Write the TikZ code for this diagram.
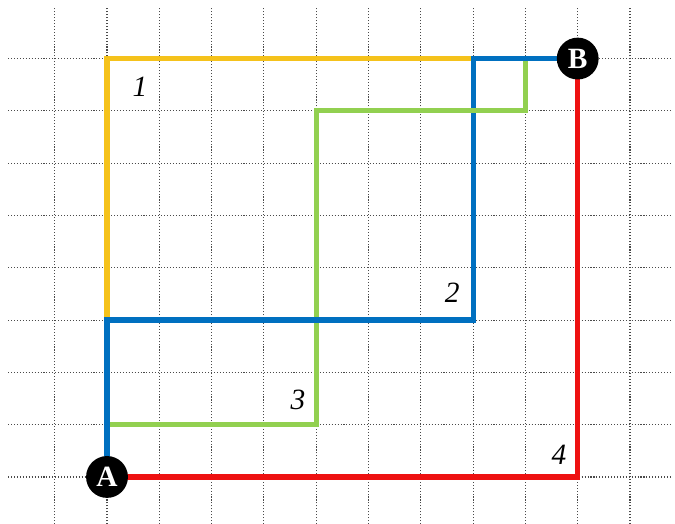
\documentclass[tikz,border=0pt]{standalone}
\usepackage{fontspec}
\setmainfont{Liberation Serif}
\usepackage{tikz}
\usetikzlibrary{positioning}
\definecolor{gold}{HTML}{F5C21B}
\definecolor{ocean}{HTML}{0070C0}
\definecolor{leaf}{HTML}{92D050}
\definecolor{crimson}{HTML}{EE1111}
\definecolor{bk70}{HTML}{4A4A4A}
\tikzset{
  gridline/.style={draw=bk70, densely dotted, line width=0.6pt},
  route/.style={draw=#1, line width=2.8pt},
  route/.default=ocean,
  endpoint/.style={circle, fill=black, text=white, minimum size=0.8cm,
    inner sep=0pt, font=\fontsize{16}{16}\selectfont\bfseries},
  routenum/.style={font=\fontsize{16}{16}\selectfont\itshape}
}

\begin{document}
\begin{tikzpicture}
  \useasboundingbox (-2.046,-0.88) rectangle (10.86,9.12);
  % dotted grid
  \foreach \x in {-1,...,10}
    \draw[gridline] (\x,-0.9) -- (\x,8.97);
  \foreach \y in {0,...,8}
    \draw[gridline] (-1.89,\y) -- (10.8,\y);

  \coordinate (pa) at (0,0);
  \coordinate (pb) at (9,8);

  % the four routes
  \draw[route=gold] (pa) |- (pb);
  \draw[route=leaf] (pa) |- (4,1) |- (8,7) |- (pb);
  \draw[route=ocean] (pa) |- (7,3) |- (pb);
  \draw[route=leaf] (4,7) -- (8,7);
  \draw[route=crimson] (pa) -| (pb);

  % numbers
  \node[routenum] (n1) at (0.63,7.46) {1};
  \node[routenum] (n2) at (6.6,3.52) {2};
  \node[routenum] (n3) at (3.65,1.47) {3};
  \node[routenum] (n4) at (8.64,0.42) {4};

  % end points
  \node[endpoint] (A) at (pa) {A};
  \node[endpoint] (B) at (pb) {B};
\end{tikzpicture}
\end{document}
